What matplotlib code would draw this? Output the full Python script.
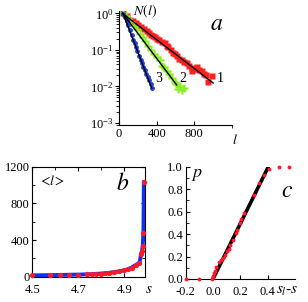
import numpy as np
import matplotlib
matplotlib.use('Agg')
import matplotlib.pyplot as plt
from matplotlib.ticker import MultipleLocator, FixedLocator, LogLocator, NullFormatter

plt.rcParams['font.family'] = ['Liberation Serif', 'DejaVu Serif']
plt.rcParams['mathtext.fontset'] = 'stix'
plt.rcParams['font.size'] = 9

# panel a: distributions N(l)
l1 = [40, 80, 117, 150, 177, 205, 233, 265, 294, 320, 339, 360, 382, 405, 428, 460, 488, 505,
      523, 550, 576, 595, 612, 640, 665, 690, 718, 745, 771, 777, 800, 824, 850, 883, 900, 919, 940, 983]
n1 = [1.0, 0.82, 0.66, 0.6, 0.53, 0.47, 0.43, 0.38, 0.33, 0.29, 0.26, 0.24, 0.22, 0.2, 0.19, 0.16, 0.15, 0.13,
      0.123, 0.1, 0.081, 0.075, 0.066, 0.058, 0.053, 0.047, 0.043, 0.037, 0.032, 0.026, 0.03, 0.034, 0.028, 0.026,
      0.022, 0.021, 0.013, 0.019]
l2 = [40, 70, 100, 130, 160, 190, 220, 250, 280, 310, 340, 370, 400, 430, 455, 480, 505, 530, 560, 590,
      610, 630, 650, 670, 685]
n2 = [1.0, 0.85, 0.72, 0.58, 0.46, 0.37, 0.28, 0.22, 0.17, 0.13, 0.10, 0.075, 0.065, 0.052, 0.037, 0.035,
      0.026, 0.022, 0.017, 0.013, 0.012, 0.0085, 0.0105, 0.0080, 0.0090]
l3 = [45, 60, 80, 95, 115, 135, 150, 165, 180, 195, 215, 230, 245, 260, 275, 290, 305, 320, 335, 350]
n3 = [0.98, 0.80, 0.60, 0.48, 0.35, 0.25, 0.19, 0.15, 0.12, 0.092, 0.070, 0.053, 0.043, 0.034, 0.028,
      0.022, 0.018, 0.015, 0.012, 0.0092]
fit1_l = [35, 1000]
fit1_n = [1.0, 0.0124]
fit2_l = [40, 612]
fit2_n = [1.0, 0.011]
fit3_l = [42, 347]
fit3_n = [1.0, 0.009]

# panel b: mean length <l> vs s
s_b = [4.50, 4.575, 4.619, 4.658, 4.70, 4.739, 4.758, 4.778, 4.797, 4.816, 4.835, 4.856, 4.878,
       4.897, 4.915, 4.932, 4.951, 4.966, 4.973, 4.977, 4.980, 4.983, 4.985]
lm_b = [15, 17, 19, 21, 23, 26, 28, 31, 34, 38, 43, 50, 58, 68, 82, 100, 130, 150, 250, 280, 340, 480, 1030]

# panel c: probability p vs s_l - s
ds_c = [-0.2, -0.103, -0.005, 0.0, 0.001, 0.005, 0.012, 0.025, 0.044, 0.056, 0.073, 0.085, 0.1,
        0.117, 0.127, 0.146, 0.165, 0.177, 0.194, 0.206, 0.23, 0.298, 0.335, 0.376, 0.407, 0.485, 0.557]
p_c = [0.0, 0.0, 0.0, 0.015, 0.03, 0.05, 0.075, 0.105, 0.155, 0.17, 0.19, 0.215, 0.245,
       0.27, 0.305, 0.35, 0.41, 0.433, 0.5, 0.53, 0.59, 0.752, 0.857, 0.925, 0.98, 1.0, 1.0]
fitc_ds = [0.0, 0.405]
fitc_p = [0.0, 1.0]

fig = plt.figure(figsize=(3.08, 3.02), dpi=100)

# ---- panel a
ax = fig.add_axes([0.3864, 0.5861, 0.3669, 0.3775])
ax.set_yscale('log')
ax.plot(l1, n1, 's', color='#ff2020', ms=4.6, mec='none', zorder=2)
ax.plot(l2, n2, 'P', color='#88ee22', ms=5.5, mec='none', zorder=2)
ax.plot(l3, n3, 'o', color='#2040e0', ms=3.5, mec='none', zorder=2)
for fl, fn in [(fit1_l, fit1_n), (fit2_l, fit2_n), (fit3_l, fit3_n)]:
    ax.plot(fl, fn, color='black', lw=1.0, zorder=3)
ax.set_xlim(0, 1200)
ax.set_ylim(8.8e-4, 1.16)
ax.set_xticks([0, 400, 800])
ax.xaxis.set_minor_locator(FixedLocator([1200]))
ax.yaxis.set_major_locator(LogLocator(base=10, numticks=10))
ax.yaxis.set_minor_locator(LogLocator(base=10, subs=np.arange(2, 10), numticks=10))
ax.yaxis.set_minor_formatter(NullFormatter())
ax.spines['top'].set_visible(False)
ax.spines['right'].set_visible(False)
ax.tick_params(axis='x', direction='in', length=3, pad=2)
ax.tick_params(axis='y', which='major', direction='out', length=3, pad=1)
ax.tick_params(axis='y', which='minor', direction='out', length=2)
ax.text(0.12, 1.0, '$N(l)$', transform=ax.transAxes, fontsize=10, va='center', ha='left')
ax.text(1.0, -0.07, '$l$', transform=ax.transAxes, fontsize=10, va='top', ha='left')
ax.text(0.86, 0.88, '$a$', transform=ax.transAxes, fontsize=17, ha='center', va='center')
ax.text(1040, 0.016, '1', fontsize=10, ha='left', va='center')
ax.text(640, 0.017, '2', fontsize=10, ha='left', va='center')
ax.text(380, 0.017, '3', fontsize=10, ha='left', va='center')

# ---- panel b
bx = fig.add_axes([0.1055, 0.0838, 0.3653, 0.3642])
bx.plot(s_b, lm_b, '-', color='#1030ff', lw=2.8, zorder=2)
bx.plot(s_b, lm_b, 'o', color='#ff1a2a', ms=3.8, mec='none', zorder=3, clip_on=False)
bx.set_xlim(4.5, 4.99)
bx.set_ylim(0, 1200)
bx.set_xticks([4.5, 4.7, 4.9])
bx.set_xticklabels(['4.5', '4.7', '4.9'])
bx.xaxis.set_minor_locator(MultipleLocator(0.1))
bx.set_yticks([0, 400, 800, 1200])
bx.yaxis.set_minor_locator(MultipleLocator(200))
bx.tick_params(which='both', direction='in', top=True, right=True, length=3, pad=2)
bx.tick_params(axis='x', pad=5.5)
bx.tick_params(which='minor', length=2)
bx.text(0.05, 0.93, r'$<\!l\!>$', transform=bx.transAxes, fontsize=10, va='top', ha='left')
bx.text(0.8, 0.84, '$b$', transform=bx.transAxes, fontsize=17, ha='center', va='center')
bx.text(1.0, -0.06, '$s$', transform=bx.transAxes, fontsize=11, va='top', ha='left')

# ---- panel c
cx = fig.add_axes([0.6029, 0.0762, 0.3549, 0.3719])
cx.plot(fitc_ds, fitc_p, color='black', lw=2.6, zorder=2)
cx.plot(ds_c, p_c, 'o', color='#ff1a2a', ms=2.8, mec='none', zorder=3, clip_on=False)
cx.set_xlim(-0.2, 0.6)
cx.set_ylim(0, 1.0)
cx.set_xticks([-0.2, 0.0, 0.2, 0.4])
cx.set_xticklabels(['-0.2', '0.0', '0.2', '0.4'])
cx.set_yticks([0.0, 0.2, 0.4, 0.6, 0.8, 1.0])
cx.set_yticklabels(['0.0', '0.2', '0.4', '0.6', '0.8', '1.0'])
cx.yaxis.set_minor_locator(MultipleLocator(0.1))
cx.spines['top'].set_visible(False)
cx.spines['right'].set_visible(False)
cx.tick_params(which='both', direction='in', length=3, pad=2)
cx.tick_params(axis='x', pad=5)
cx.tick_params(which='minor', length=2)
cx.text(0.1, 0.93, '$p$', transform=cx.transAxes, fontsize=13, va='center', ha='center')
cx.text(0.93, 0.78, '$c$', transform=cx.transAxes, fontsize=17, ha='center', va='center')
cx.text(0.83, -0.055, '$s_l$-$s$', transform=cx.transAxes, fontsize=11, va='top', ha='left')

fig.savefig('out.png', dpi=100)
